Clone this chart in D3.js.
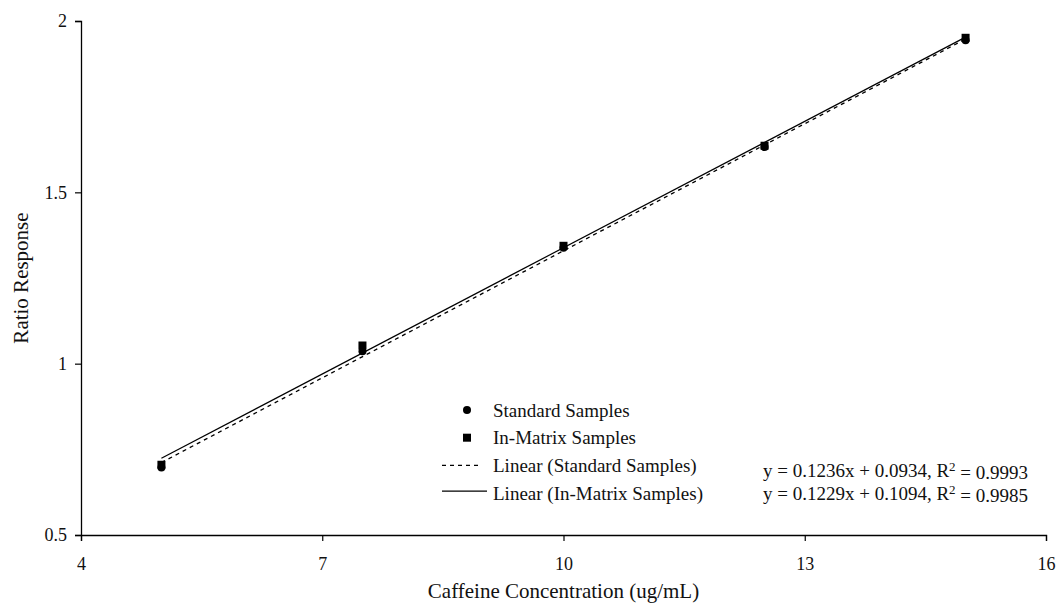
<!DOCTYPE html>
<html>
<head>
<meta charset="utf-8">
<script src="https://cdn.jsdelivr.net/npm/d3@7"></script>
<style>
  body { margin: 0; background: #fff; }
  svg text { font-family: "Liberation Serif", "Times New Roman", serif; fill: #111; }
</style>
</head>
<body>
<div id="canvas"></div>
<script>
// concentrations (ug/mL)
const concentrations = [5, 7.5, 10, 12.5, 15];
// ratio responses
const standardValues = [0.697, 1.036, 1.338, 1.632, 1.944];
const matrixValues = [0.705, 1.053, 1.344, 1.636, 1.951];
// trendline fits shown on the chart: [slope, intercept, r2]
const standardFit = [0.1236, 0.0934, 0.9993];
const matrixFit = [0.1229, 0.1094, 0.9985];
const xTicks = [4, 7, 10, 13, 16];
const yTicks = [0.5, 1, 1.5, 2];
const legendLabels = ["Standard Samples", "In-Matrix Samples", "Linear (Standard Samples)", "Linear (In-Matrix Samples)"];

const width = 1060, height = 608;
const margin = {left: 81, right: 14, top: 21, bottom: 73};

const svg = d3.select('#canvas')
    .append('svg')
    .attr('width', width)
    .attr('height', height);

const x = d3.scaleLinear().domain([4, 16]).range([margin.left, width - margin.right]);
const y = d3.scaleLinear().domain([0.5, 2]).range([height - margin.bottom, margin.top]);

//Axes
const xAxis = svg.append('g')
    .attr('transform', `translate(0, ${y(0.5)})`)
    .call(d3.axisBottom(x).tickValues(xTicks).tickFormat(d3.format('d')).tickSize(6).tickPadding(16));
const yAxis = svg.append('g')
    .attr('transform', `translate(${x(4)}, 0)`)
    .call(d3.axisLeft(y).tickValues(yTicks).tickFormat(d => d).tickSize(6).tickPadding(8));

[xAxis, yAxis].forEach(g => {
    g.select('.domain').attr('stroke', '#000').attr('stroke-width', 1.3);
    g.selectAll('.tick line').attr('stroke', '#000').attr('stroke-width', 1.2);
    g.selectAll('.tick text')
        .style('font-family', '"Liberation Serif", serif')
        .style('font-size', '18px')
        .attr('fill', '#111');
});

//Axis titles
svg.append('text')
    .attr('x', (x(4) + x(16)) / 2)
    .attr('y', 598)
    .attr('text-anchor', 'middle')
    .style('font-size', '21px')
    .text('Caffeine Concentration (ug/mL)');

svg.append('text')
    .attr('transform', `translate(28, ${(y(0.5) + y(2)) / 2}) rotate(-90)`)
    .attr('text-anchor', 'middle')
    .style('font-size', '21px')
    .text('Ratio Response');

//Trendlines
const xMin = d3.min(concentrations), xMax = d3.max(concentrations);
const line = d3.line().x(d => x(d[0])).y(d => y(d[1]));
const fitPoints = fit => [[xMin, fit[0] * xMin + fit[1]], [xMax, fit[0] * xMax + fit[1]]];

svg.append('path')
    .attr('d', line(fitPoints(matrixFit)))
    .attr('fill', 'none')
    .attr('stroke', '#000')
    .attr('stroke-width', 1.2);

svg.append('path')
    .attr('d', line(fitPoints(standardFit)))
    .attr('fill', 'none')
    .attr('stroke', '#000')
    .attr('stroke-width', 1.3)
    .attr('stroke-dasharray', '4,4');

//Points
svg.selectAll('circle.std')
    .data(concentrations)
    .enter()
        .append('circle')
        .attr('class', 'std')
        .attr('cx', d => x(d))
        .attr('cy', (d, i) => y(standardValues[i]))
        .attr('r', 4)
        .style('fill', '#000');

svg.selectAll('rect.mat')
    .data(concentrations)
    .enter()
        .append('rect')
        .attr('class', 'mat')
        .attr('x', d => x(d) - 4)
        .attr('y', (d, i) => y(matrixValues[i]) - 4)
        .attr('width', 8)
        .attr('height', 8)
        .style('fill', '#000');

//Legend
const legend = svg.append('g').attr('transform', 'translate(442, 410)');
const rowGap = 27.7;
legend.append('circle').attr('cx', 25).attr('cy', 0).attr('r', 4).style('fill', '#000');
legend.append('rect').attr('x', 21).attr('y', rowGap - 4).attr('width', 8).attr('height', 8).style('fill', '#000');
legend.append('line').attr('x1', 0).attr('x2', 40).attr('y1', rowGap * 2).attr('y2', rowGap * 2)
    .attr('stroke', '#000').attr('stroke-width', 1.3).attr('stroke-dasharray', '4,4');
legend.append('line').attr('x1', 0).attr('x2', 45).attr('y1', rowGap * 3 - 2).attr('y2', rowGap * 3 - 2)
    .attr('stroke', '#000').attr('stroke-width', 1.2);

legend.selectAll('text.lbl')
    .data(legendLabels)
    .enter()
        .append('text')
        .attr('class', 'lbl')
        .attr('x', 51)
        .attr('y', (d, i) => i * rowGap)
        .attr('dy', '0.35em')
        .style('font-size', '19px')
        .text(d => d);

//Equations
const eqText = fit => `y = ${fit[0].toFixed(4)}x + ${fit[1].toFixed(4)}, R`;
[standardFit, matrixFit].forEach((fit, i) => {
    const t = svg.append('text')
        .attr('x', 763)
        .attr('y', 470 + i * 23)
        .attr('dy', '0.35em')
        .style('font-size', '19px');
    t.append('tspan').text(eqText(fit));
    t.append('tspan').attr('dy', '-0.45em').style('font-size', '13px').text('2');
    t.append('tspan').attr('dy', '0.45em').text(` = ${fit[2].toFixed(4)}`);
});
</script>
</body>
</html>
